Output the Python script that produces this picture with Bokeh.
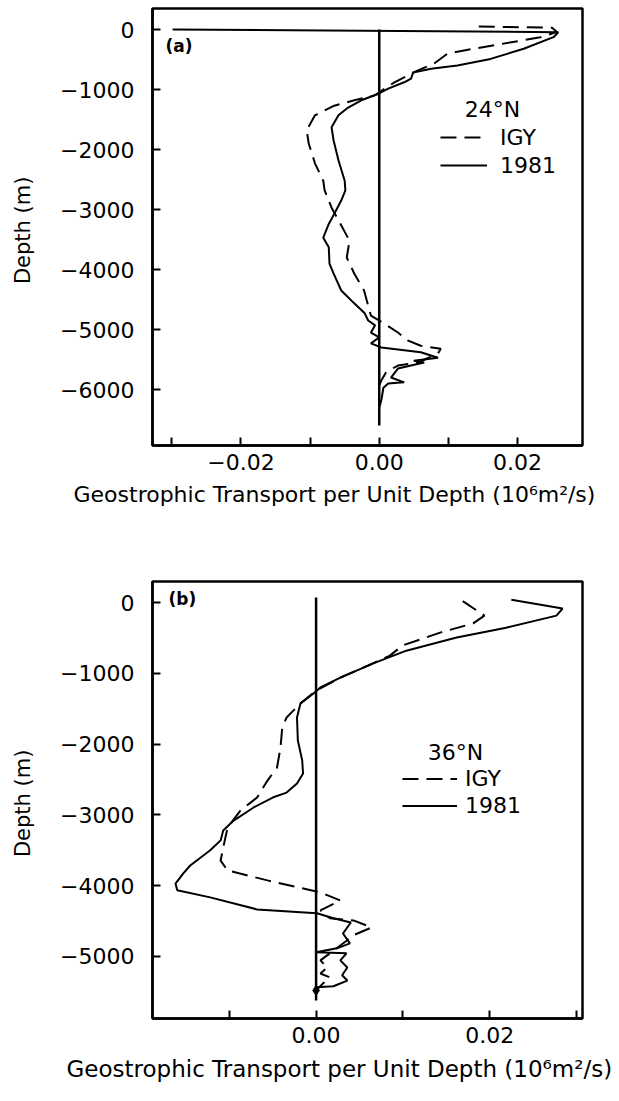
from bokeh.plotting import figure
from bokeh.models import Range1d, FixedTicker, Label, Legend, LegendItem, Title
from bokeh.layouts import column
from bokeh.embed import file_html
from bokeh.resources import INLINE

FONT = "DejaVu Sans"

# ---------------- data: panel (a) 24N ----------------
a_1981_x = [-0.0299, 0.0259, 0.0252, 0.0209, 0.0161, 0.0113, 0.0075, 0.0049, 0.0046, 0.0036,
            0.0013, -0.0001, -0.0026, -0.0045, -0.0059, -0.0069, -0.0066, -0.0059, -0.0050, -0.0049,
            -0.0055, -0.0065, -0.0073, -0.0081, -0.0073, -0.0072, -0.0066, -0.0055, -0.0040, -0.0021,
            -0.0016, -0.0006, -0.0012, 0.0000, -0.0012, 0.0003, 0.0060, 0.0085, 0.0050, 0.0065,
            0.0027, 0.0017, 0.0036, 0.0013, 0.0006, 0.0003, 0.0000]
a_1981_depth = [0, -45, -128, -320, -490, -600, -655, -715, -820, -880,
                -985, -1070, -1180, -1300, -1430, -1630, -1850, -2180, -2520, -2680,
                -2850, -3070, -3240, -3470, -3630, -3900, -4070, -4350, -4520, -4730,
                -4850, -4930, -5050, -5130, -5230, -5300, -5380, -5470, -5520, -5550,
                -5650, -5800, -5880, -5900, -5970, -6180, -6300]
a_igy_x = [0.0144, 0.0250, 0.0257, 0.0233, 0.0137, 0.0099, 0.0079, 0.0056, 0.0022, -0.0007,
           -0.0036, -0.0065, -0.0093, -0.0105, -0.0102, -0.0093, -0.0081, -0.0079, -0.0069, -0.0059,
           -0.0043, -0.0047, -0.0036, -0.0022, -0.0012, 0.0007, 0.0027, 0.0041, 0.0060, 0.0089,
           0.0085, 0.0056, 0.0027, 0.0010, 0.0003, 0.0000]
a_igy_depth = [50, 30, -40, -130, -320, -400, -570, -680, -880, -1100,
               -1180, -1270, -1430, -1680, -1900, -2230, -2520, -2680, -2970, -3180,
               -3520, -3800, -4070, -4350, -4770, -4900, -5050, -5180, -5270, -5320,
               -5400, -5550, -5600, -5710, -5850, -5930]
a_zero_x = [0, 0]
a_zero_depth = [0, -6600]

# ---------------- data: panel (b) 36N ----------------
b_1981_x = [0.0225, 0.0284, 0.0277, 0.0219, 0.0162, 0.0104, 0.0066, 0.0028, 0.0005, -0.0003,
            -0.0018, -0.0022, -0.0021, -0.0016, -0.0015, -0.0022, -0.0034, -0.0050, -0.0072, -0.0095,
            -0.0107, -0.0110, -0.0122, -0.0145, -0.0153, -0.0162, -0.0160, -0.0122, -0.0068, 0.0001,
            0.0020, 0.0040, 0.0031, 0.0039, 0.0024, 0.0000, 0.0035, 0.0028, 0.0036, 0.0030,
            0.0036, 0.0020, 0.0000]
b_1981_depth = [40, -85, -185, -355, -495, -680, -860, -1060, -1200, -1285,
                -1425, -1625, -1950, -2230, -2415, -2555, -2685, -2755, -2895, -3080,
                -3220, -3360, -3500, -3715, -3825, -3970, -4065, -4165, -4335, -4390,
                -4460, -4520, -4675, -4815, -4885, -4940, -4955, -5055, -5155, -5265,
                -5340, -5420, -5435]
b_igy_x = [0.0169, 0.0194, 0.0181, 0.0143, 0.0100, 0.0085, 0.0060, 0.0028, 0.0000, -0.0018,
           -0.0034, -0.0039, -0.0041, -0.0045, -0.0056, -0.0068, -0.0087, -0.0102, -0.0107, -0.0110,
           -0.0102, -0.0056, 0.0005, 0.0028, 0.0005, 0.0016, 0.0043, 0.0064, 0.0043, 0.0036,
           0.0005, 0.0013, 0.0005, 0.0016, 0.0008, 0.0000]
b_igy_depth = [20, -185, -295, -425, -605, -750, -890, -1060, -1245, -1425,
               -1625, -1765, -2050, -2330, -2515, -2755, -2935, -3180, -3460, -3645,
               -3785, -3925, -4095, -4210, -4350, -4460, -4490, -4590, -4700, -4770,
               -5055, -5155, -5240, -5295, -5380, -5480]
b_zero_x = [0, 0]
b_zero_depth = [70, -5620]
b_end_x = [0]
b_end_depth = [-5480]

# ---------------- ticks ----------------
a_y_ticks = [0, -1000, -2000, -3000, -4000, -5000, -6000]
b_y_ticks = [0, -1000, -2000, -3000, -4000, -5000]
a_x_major = [-0.02, 0.0, 0.02]
a_x_minor = [-0.03, -0.01, 0.01]
b_x_major = [0.0, 0.02]
b_x_minor = [-0.01, 0.01, 0.03]
x_label_text = {-0.02: "\u22120.02", 0.0: "0.00", 0.02: "0.02"}

x_title = "Geostrophic Transport per Unit Depth (10\u2076m\u00b2/s)"
y_title = "Depth  (m)"


def y_label(v):
    return "0" if v == 0 else "\u2212" + str(abs(v))


def make_panel(height, borders, xr, yr, x_major, x_minor, y_ticks,
               solid_x, solid_d, dash_x, dash_d, zero_x, zero_d,
               tag, tag_pos, lat, lat_pos, leg_loc, glyph_w, leg_standoff, leg_h,
               xt_offset, xt_size, xt_standoff):
    left, right, top, bottom = borders
    p = figure(width=619, height=height, output_backend="svg", toolbar_location=None,
               x_range=Range1d(*xr), y_range=Range1d(*yr),
               min_border_left=left, min_border_right=right,
               min_border_top=top, min_border_bottom=bottom)
    p.xgrid.visible = False
    p.ygrid.visible = False
    p.outline_line_color = "black"
    p.outline_line_width = 2.5
    p.background_fill_color = "white"
    p.border_fill_color = "white"

    for ax in (p.xaxis[0], p.yaxis[0]):
        ax.axis_line_width = 2.5
        ax.axis_line_color = "black"
        ax.major_tick_in = 8
        ax.major_tick_out = 0
        ax.minor_tick_in = 8
        ax.minor_tick_out = 0
        ax.major_tick_line_width = 2
        ax.minor_tick_line_width = 2
        ax.major_tick_line_color = "black"
        ax.minor_tick_line_color = "black"
        ax.major_label_text_font = FONT
        ax.major_label_text_font_size = "22px"
        ax.major_label_text_color = "black"

    p.xaxis.ticker = FixedTicker(ticks=x_major, minor_ticks=x_minor)
    p.xaxis.major_label_overrides = {v: x_label_text[v] for v in x_major}
    p.xaxis.major_label_standoff = 8
    p.yaxis.ticker = FixedTicker(ticks=y_ticks)
    p.yaxis.major_label_overrides = {v: y_label(v) for v in y_ticks}
    p.yaxis.major_label_standoff = 18
    p.yaxis.axis_label = y_title
    p.yaxis.axis_label_text_font = FONT
    p.yaxis.axis_label_text_font_size = "21px"
    p.yaxis.axis_label_text_font_style = "normal"
    p.yaxis.axis_label_text_color = "black"
    p.yaxis.axis_label_standoff = 22

    p.add_layout(Title(text=x_title, align="left", offset=xt_offset, standoff=xt_standoff,
                       text_font=FONT, text_font_size=xt_size, text_font_style="normal",
                       text_color="black"), "below")

    p.line(zero_x, zero_d, line_color="black", line_width=2.5)
    r_dash = p.line(dash_x, dash_d, line_color="black", line_width=2, line_dash="16 8")
    r_solid = p.line(solid_x, solid_d, line_color="black", line_width=2)

    legend = Legend(items=[LegendItem(label="IGY", renderers=[r_dash]),
                           LegendItem(label="1981", renderers=[r_solid])],
                    location=leg_loc, padding=0, margin=0, spacing=0,
                    glyph_width=glyph_w, glyph_height=leg_h, label_height=leg_h,
                    label_standoff=leg_standoff,
                    label_text_font=FONT, label_text_font_size="22px",
                    label_text_color="black",
                    border_line_alpha=0, background_fill_alpha=0)
    p.add_layout(legend, "center")

    p.add_layout(Label(x=lat_pos[0], y=lat_pos[1], x_units="screen", y_units="screen",
                       text=lat, text_font=FONT, text_font_size="22px", text_color="black",
                       text_align="center", text_baseline="middle"))
    p.add_layout(Label(x=tag_pos[0], y=tag_pos[1], x_units="screen", y_units="screen",
                       text=tag, text_font=FONT, text_font_size="17px", text_font_style="bold",
                       text_color="black", text_align="left", text_baseline="middle"))
    return p


pa = make_panel(540, (150, 37, 8, 95), (-0.0328, 0.0294), (-6933, 350),
                a_x_major, a_x_minor, a_y_ticks,
                a_1981_x, a_1981_depth, a_igy_x, a_igy_depth, a_zero_x, a_zero_depth,
                "(a)", (13, 400), "24\u00b0N", (340, 336), (288, 266), 47, 13, 28,
                -79, "22px", 14)

pb = make_panel(561, (152, 36, 41, 83), (-0.01885, 0.0307), (-5876, 297),
                b_x_major, b_x_minor, b_y_ticks,
                b_1981_x, b_1981_depth, b_igy_x, b_igy_depth, b_zero_x, b_zero_depth,
                "(b)", (16, 420), "36\u00b0N", (303, 266), (250, 199), 55, 8, 27,
                -86, "23px", 16)
pb.scatter(b_end_x, b_end_depth, marker="diamond", size=10, color="black")

layout = column(pa, pb, spacing=0)
open("out.html", "w").write(file_html(layout, INLINE))
